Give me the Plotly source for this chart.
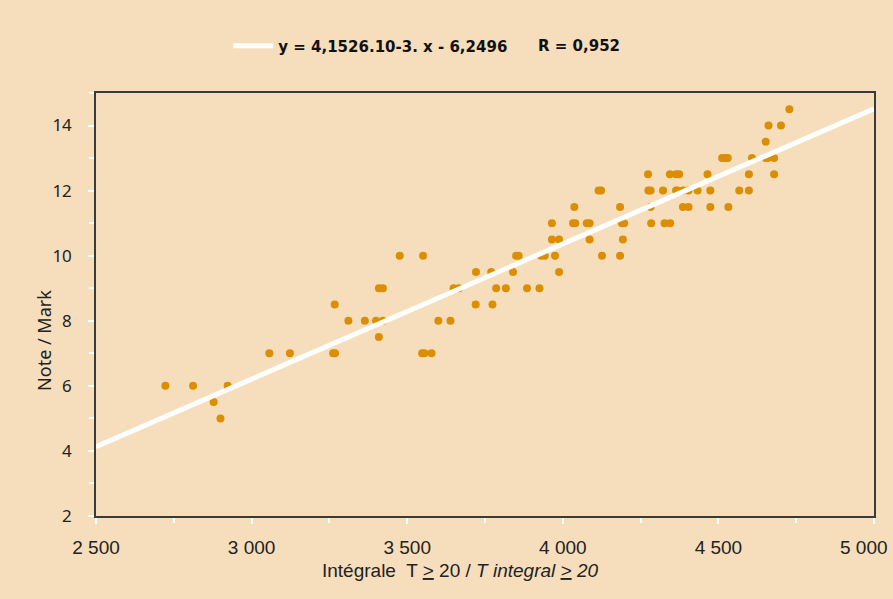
import plotly.graph_objects as go

# Data
integral_x = [
    2900,
    2878,
    2723, 2812, 2923,
    3057, 3123, 3262, 3268, 3548, 3555, 3578,
    3409,
    3311, 3364, 3400, 3422, 3600, 3639,
    3267, 3720, 3774,
    3409, 3422, 3649, 3666, 3786, 3817, 3885, 3925,
    3721, 3770, 3840, 3988,
    3476, 3551, 3850, 3858, 3930, 3942, 3975, 4126, 4184,
    3965, 3988, 4086, 4193,
    3965, 4033, 4040, 4077, 4086, 4190, 4197, 4284, 4327, 4345,
    4037, 4184, 4282, 4386, 4404, 4474, 4532,
    4115, 4123, 4275, 4282, 4322, 4364, 4368, 4386, 4404, 4433, 4474, 4567, 4598,
    4274, 4344, 4364, 4374, 4465, 4598, 4679,
    4512, 4522, 4530, 4608, 4652, 4659, 4679,
    4652,
    4661, 4701,
    4728,
]
mark_y = [
    5,
    5.5,
    6, 6, 6,
    7, 7, 7, 7, 7, 7, 7,
    7.5,
    8, 8, 8, 8, 8, 8,
    8.5, 8.5, 8.5,
    9, 9, 9, 9, 9, 9, 9, 9,
    9.5, 9.5, 9.5, 9.5,
    10, 10, 10, 10, 10, 10, 10, 10, 10,
    10.5, 10.5, 10.5, 10.5,
    11, 11, 11, 11, 11, 11, 11, 11, 11, 11,
    11.5, 11.5, 11.5, 11.5, 11.5, 11.5, 11.5,
    12, 12, 12, 12, 12, 12, 12, 12, 12, 12, 12, 12, 12,
    12.5, 12.5, 12.5, 12.5, 12.5, 12.5, 12.5,
    13, 13, 13, 13, 13, 13, 13,
    13.5,
    14, 14,
    14.5,
]

slope = 4.1526e-3
intercept = -6.2496
fit_x = [2500, 5000]
fit_y = [slope * v + intercept for v in fit_x]

x_tickvals = [2500, 3000, 3500, 4000, 4500, 5000]
x_ticktext = ["2 500", "3 000", "3 500", "4 000", "4 500", "5 000"]
y_tickvals = [2, 4, 6, 8, 10, 12, 14]

legend_label = "y = 4,1526.10-3. x - 6,2496"
r_label = "R = 0,952"
x_title = ("Intégrale  T <span style='text-decoration:underline'>&gt;</span> 20 / "
           "<i>T integral <span style='text-decoration:underline'>&gt;</span> 20</i>")
y_title = "Note / Mark"

BG = "#F6DEBC"
DOT = "#DB8E00"
XFONT = "Liberation Sans, Arial"
YFONT = "Noto Sans, DejaVu Sans"
LFONT = "DejaVu Sans, Verdana"

fig = go.Figure()
fig.add_trace(go.Scatter(
    x=integral_x, y=mark_y, mode="markers",
    marker=dict(color=DOT, size=8, line=dict(width=0)),
    showlegend=False,
))
fig.add_trace(go.Scatter(
    x=fit_x, y=fit_y, mode="lines",
    line=dict(color="white", width=5),
    name="<b>" + legend_label + "</b>", showlegend=True,
))

axis_common = dict(
    showgrid=False, zeroline=False,
    showline=True, linecolor="#3a3a3a", linewidth=1.5, mirror=True,
    ticks="outside", tickcolor="white", ticklen=6, tickwidth=1.5,
)

fig.update_layout(
    width=893, height=599,
    margin=dict(l=96, r=19, t=93, b=83, autoexpand=False),
    paper_bgcolor=BG, plot_bgcolor=BG,
    showlegend=True,
    legend=dict(
        x=0.17, y=1.111, xanchor="left", yanchor="middle",
        bgcolor="rgba(0,0,0,0)", orientation="h",
        font=dict(family=LFONT, size=15, color="#111111"),
        itemwidth=40,
    ),
    xaxis=dict(
        range=[2500, 5000], tickvals=x_tickvals,
        ticktext=x_ticktext[:-1] + [""],
        minor=dict(tickmode="linear", tick0=2500, dtick=250, ticks="outside",
                   ticklen=5, tickcolor="white", tickwidth=1.5),
        tickfont=dict(family=XFONT, size=19, color="#222222"),
        ticklabelstandoff=7,
        automargin=False,
        **axis_common,
    ),
    yaxis=dict(
        range=[2, 15], tickvals=y_tickvals,
        minor=dict(tickmode="linear", tick0=1, dtick=1, ticks="outside",
                   ticklen=5, tickcolor="white", tickwidth=1.5),
        tickfont=dict(family=YFONT, size=17, color="#222222"),
        ticklabelstandoff=13,
        automargin=False,
        **axis_common,
    ),
    annotations=[
        dict(
            text="<b>" + r_label + "</b>", xref="paper", yref="paper",
            x=0.566, y=1.111, xanchor="left", yanchor="middle", showarrow=False,
            font=dict(family=LFONT, size=15, color="#111111"),
        ),
        dict(
            text=x_ticktext[-1], xref="x", yref="paper",
            x=x_tickvals[-1], y=0, xanchor="center", yanchor="top",
            xshift=-10, yshift=-19, showarrow=False,
            font=dict(family=XFONT, size=19, color="#222222"),
        ),
        dict(
            text=x_title, xref="paper", yref="paper",
            x=0.469, y=-0.1277, xanchor="center", yanchor="middle", showarrow=False,
            font=dict(family=XFONT, size=19, color="#222222"),
        ),
        dict(
            text=y_title, xref="paper", yref="paper", textangle=-90,
            x=-0.0668, y=0.414, xanchor="center", yanchor="middle", showarrow=False,
            font=dict(family=YFONT, size=18, color="#222222"),
        ),
    ],
)

fig.write_html("out.html", config={"displayModeBar": False},
               post_script="document.body.style.margin='0';")
